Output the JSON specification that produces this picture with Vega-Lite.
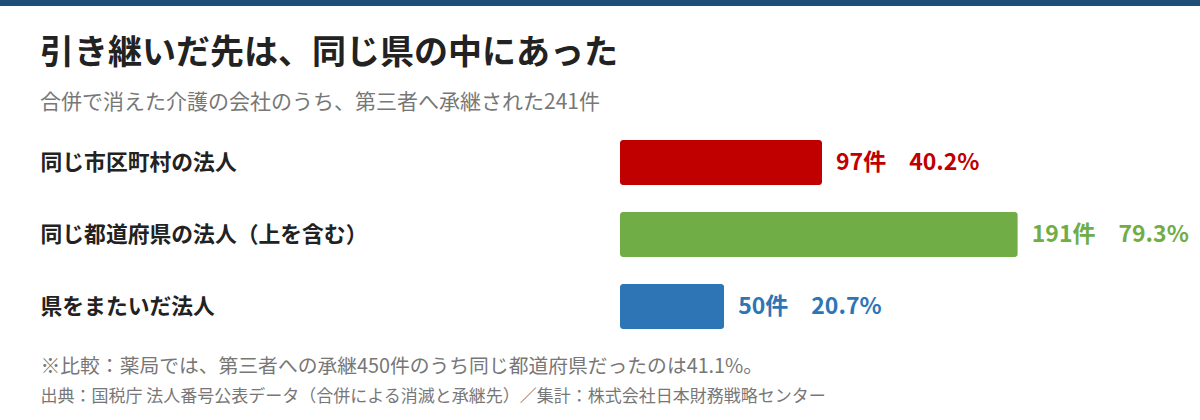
{
  "$schema": "https://vega.github.io/schema/vega-lite/v6.json",
  "width": 1200,
  "height": 414,
  "autosize": {"type": "none"},
  "padding": {"top": 6, "left": 0, "right": 0, "bottom": 0},
  "background": "#1f4e79",
  "config": {
    "view": {"fill": "white", "stroke": null},
    "font": "Noto Sans CJK JP"
  },
  "title": {
    "text": "引き継いだ先は、同じ県の中にあった",
    "subtitle": "合併で消えた介護の会社のうち、第三者へ承継された241件",
    "anchor": "start",
    "frame": "group",
    "orient": "top",
    "dx": 40,
    "offset": -107,
    "font": "Noto Sans CJK JP",
    "fontSize": 34,
    "fontWeight": "bold",
    "color": "#222222",
    "subtitleFont": "Noto Sans CJK JP",
    "subtitleFontSize": 21,
    "subtitleColor": "#777777",
    "subtitlePadding": 21
  },
  "data": {
    "values": [
      {"category": "同じ市区町村の法人", "count": 97, "pct": 40.2, "label": "97件　40.2%"},
      {"category": "同じ都道府県の法人（上を含む）", "count": 191, "pct": 79.3, "label": "191件　79.3%"},
      {"category": "県をまたいだ法人", "count": 50, "pct": 20.7, "label": "50件　20.7%"}
    ]
  },
  "encoding": {
    "y": {
      "field": "category",
      "type": "nominal",
      "scale": {
        "domain": ["同じ市区町村の法人", "同じ都道府県の法人（上を含む）", "県をまたいだ法人"],
        "range": [134, 323],
        "paddingInner": 0.375,
        "paddingOuter": 0
      },
      "axis": {
        "orient": "left",
        "title": null,
        "ticks": false,
        "tickSize": 0,
        "domain": false,
        "grid": false,
        "labelAlign": "left",
        "labelBaseline": "middle",
        "labelPadding": -40,
        "labelFont": "Noto Sans CJK JP",
        "labelFontSize": 21.8,
        "labelFontWeight": "bold",
        "labelColor": "#222222",
        "labelLimit": 800
      }
    },
    "color": {
      "field": "category",
      "type": "nominal",
      "scale": {
        "domain": ["同じ市区町村の法人", "同じ都道府県の法人（上を含む）", "県をまたいだ法人"],
        "range": ["#c00000", "#70ad47", "#2e75b6"]
      },
      "legend": null
    }
  },
  "layer": [
    {
      "mark": {"type": "bar", "cornerRadius": 3},
      "encoding": {
        "x": {
          "field": "count",
          "type": "quantitative",
          "scale": {"domain": [0, 278.5], "range": [620, 1200], "nice": false, "zero": true},
          "axis": {
            "orient": "bottom",
            "labels": false,
            "ticks": false,
            "domain": false,
            "grid": false,
            "title": "※比較：薬局では、第三者への承継450件のうち同じ都道府県だったのは41.1%。",
            "titleX": 40,
            "titleY": -54,
            "titleAlign": "left",
            "titleBaseline": "middle",
            "titleAngle": 0,
            "titleFont": "Noto Sans CJK JP",
            "titleFontSize": 19.8,
            "titleFontWeight": "normal",
            "titleColor": "#777777",
            "titleLimit": 1200
          }
        }
      }
    },
    {
      "mark": {
        "type": "text",
        "align": "left",
        "baseline": "middle",
        "dx": 14,
        "font": "Noto Sans CJK JP",
        "fontSize": 23,
        "fontWeight": "bold"
      },
      "encoding": {
        "x": {
          "field": "count",
          "type": "quantitative",
          "scale": {"domain": [0, 278.5], "range": [620, 1200], "nice": false, "zero": true},
          "axis": {
            "orient": "top",
            "labels": false,
            "ticks": false,
            "domain": false,
            "grid": false,
            "title": "出典：国税庁 法人番号公表データ（合併による消滅と承継先）／集計：株式会社日本財務戦略センター",
            "titleX": 40,
            "titleY": 390,
            "titleAlign": "left",
            "titleBaseline": "middle",
            "titleAngle": 0,
            "titleFont": "Noto Sans CJK JP",
            "titleFontSize": 17,
            "titleFontWeight": "normal",
            "titleColor": "#777777",
            "titleLimit": 1200
          }
        },
        "text": {"field": "label", "type": "nominal"}
      }
    }
  ],
  "resolve": {"axis": {"x": "independent"}}
}
